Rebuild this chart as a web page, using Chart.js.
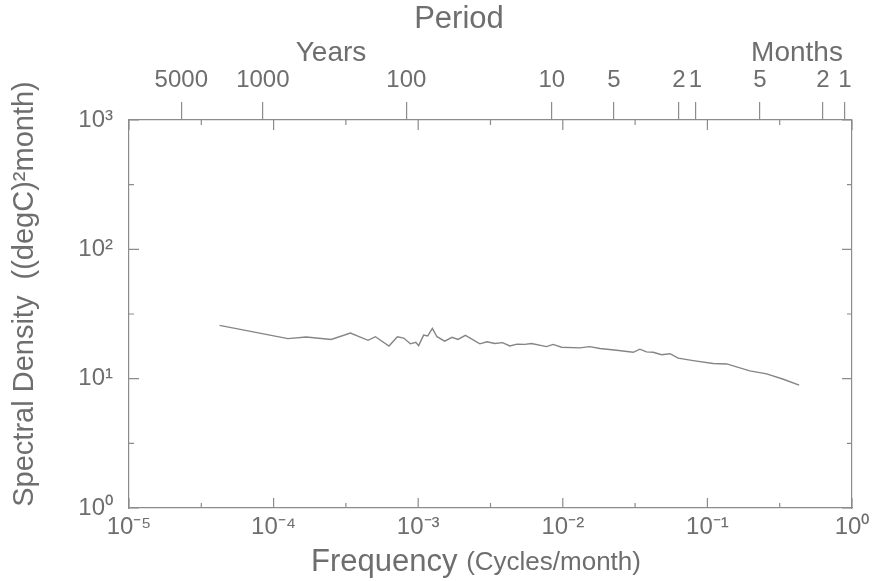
<!DOCTYPE html>
<html>
<head>
<meta charset="utf-8">
<script src="https://cdn.jsdelivr.net/npm/chart.js@4.4.1/dist/chart.umd.min.js"></script>
<style>
  html, body { margin: 0; padding: 0; background: #fff; }
  #wrap { width: 881px; height: 581px; }
</style>
</head>
<body>
<div id="wrap"><canvas id="spectrum"></canvas></div>
<script>
// frequency (cycles/month) and spectral density
const freq = [4.23e-5, 1.256e-4, 1.68e-4, 2.50e-4, 3.40e-4, 4.50e-4, 5.06e-4, 6.28e-4, 7.18e-4, 7.94e-4,
    8.83e-4, 9.62e-4, 1.007e-3, 1.09e-3, 1.164e-3, 1.253e-3, 1.349e-3, 1.524e-3, 1.714e-3, 1.884e-3,
    2.12e-3, 2.67e-3, 2.99e-3, 3.38e-3, 3.83e-3, 4.30e-3, 4.83e-3, 5.46e-3, 6.07e-3, 7.71e-3,
    8.57e-3, 9.80e-3, 0.01312, 0.01538, 0.01803, 0.02355, 0.0307, 0.0341, 0.0379, 0.0422,
    0.0482, 0.0551, 0.0628, 0.0798, 0.1096, 0.1358, 0.1967, 0.257, 0.335, 0.431];
const density = [25.8, 20.4, 21.0, 20.1, 22.5, 19.8, 21.1, 17.9, 21.1, 20.6,
    18.6, 19.1, 18.0, 21.7, 21.4, 24.5, 21.1, 19.5, 20.9, 20.1,
    21.6, 18.6, 19.3, 18.7, 19.0, 17.9, 18.5, 18.4, 18.7, 17.7,
    18.4, 17.5, 17.3, 17.7, 17.1, 16.6, 16.0, 16.9, 16.1, 16.0,
    15.3, 15.6, 14.4, 13.8, 13.1, 13.0, 11.5, 10.9, 9.9, 8.9];

// period axis along the top
const periodFreqs = [2.30e-5, 8.43e-5, 8.28e-4, 8.40e-3, 0.02254, 0.0636, 0.0828, 0.2307, 0.629, 0.895];
const periodLabels = ['5000', '1000', '100', '10', '5', '2', '1', '5', '2', '1'];

const xTickLabels = ['10\u207B\u2075', '10\u207B\u2074', '10\u207B\u00B3', '10\u207B\u00B2', '10\u207B\u00B9', '10\u2070'];
const yTickLabels = ['10\u2070', '10\u00B9', '10\u00B2', '10\u00B3'];

const ink = '#6e6e6e';
const fontFamily = '"Liberation Sans", Arial, sans-serif';

const decades = (min, max) => {
    const out = [];
    for (let k = Math.log10(min); k <= Math.log10(max); k++) out.push(Math.pow(10, k));
    return out;
};

// inward tick marks on all four sides plus the axis titles
const frameDecor = {
    id: 'frameDecor',
    afterDraw(chart) {
        const ctx = chart.ctx;
        const a = chart.chartArea;
        const xs = chart.scales.x, ys = chart.scales.y;
        ctx.save();
        ctx.strokeStyle = '#8c8c8c';
        ctx.lineWidth = 1.2;
        ctx.beginPath();
        decades(xs.min, xs.max).forEach(v => {
            [[v, 10], [v * Math.sqrt(10), 5]].forEach(([val, len]) => {
                if (val > xs.max) return;
                const px = xs.getPixelForValue(val);
                ctx.moveTo(px, a.bottom); ctx.lineTo(px, a.bottom - len);
                ctx.moveTo(px, a.top); ctx.lineTo(px, a.top + len);
            });
        });
        decades(ys.min, ys.max).forEach(v => {
            [[v, 10], [v * Math.sqrt(10), 5]].forEach(([val, len]) => {
                if (val > ys.max) return;
                const py = ys.getPixelForValue(val);
                ctx.moveTo(a.left, py); ctx.lineTo(a.left + len, py);
                ctx.moveTo(a.right, py); ctx.lineTo(a.right - len, py);
            });
        });
        ctx.stroke();

        ctx.fillStyle = ink;
        ctx.textBaseline = 'middle';
        ctx.textAlign = 'center';
        ctx.font = '31px ' + fontFamily;
        ctx.fillText('Period', 459, 19);
        ctx.font = '28px ' + fontFamily;
        ctx.fillText('Years', 331, 53);
        ctx.fillText('Months', 797, 53);

        // x title: "Frequency" large, "(Cycles/month)" smaller
        ctx.textAlign = 'left';
        ctx.font = '31px ' + fontFamily;
        const w1 = ctx.measureText('Frequency ').width;
        ctx.font = '26px ' + fontFamily;
        const w2 = ctx.measureText('(Cycles/month)').width;
        let x0 = 476 - (w1 + w2) / 2;
        ctx.font = '31px ' + fontFamily;
        ctx.fillText('Frequency ', x0, 562);
        ctx.font = '26px ' + fontFamily;
        ctx.fillText('(Cycles/month)', x0 + w1, 563);

        // y title
        ctx.translate(25, 294);
        ctx.rotate(-Math.PI / 2);
        ctx.textAlign = 'center';
        ctx.font = '29px ' + fontFamily;
        ctx.fillText('Spectral Density  ((degC)\u00B2month)', 0, 0);
        ctx.restore();
    }
};

const ctx = document.getElementById('spectrum').getContext('2d');

new Chart(ctx, {
    type: 'line',
    data: {
        datasets: [{
            data: freq.map((f, i) => ({ x: f, y: density[i] })),
            borderColor: '#858585',
            borderWidth: 1.4,
            pointRadius: 0,
            tension: 0,
            fill: false
        }]
    },
    options: {
        responsive: true,
        maintainAspectRatio: false,
        animation: false,
        layout: { padding: 0 },
        plugins: { legend: { display: false }, tooltip: { enabled: false } },
        scales: {
            x: {
                type: 'logarithmic',
                position: 'bottom',
                min: 1e-5,
                max: 1,
                afterBuildTicks: s => { s.ticks = decades(1e-5, 1).map(v => ({ value: v })); },
                afterFit: s => { s.height = 73; },
                grid: { display: false, drawTicks: false },
                border: { display: true, color: '#8c8c8c', width: 1.2 },
                ticks: {
                    autoSkip: false,
                    maxRotation: 0,
                    padding: 5,
                    color: ink,
                    font: { family: fontFamily, size: 24 },
                    callback: (v, i) => xTickLabels[i]
                }
            },
            x2: {
                type: 'logarithmic',
                position: 'top',
                min: 1e-5,
                max: 1,
                afterBuildTicks: s => { s.ticks = periodFreqs.map(v => ({ value: v })); },
                afterFit: s => { s.height = 120; },
                grid: { display: true, drawOnChartArea: false, drawTicks: true, tickLength: 18, color: '#8c8c8c', lineWidth: 1.2 },
                border: { display: true, color: '#8c8c8c', width: 1.2 },
                ticks: {
                    autoSkip: false,
                    maxRotation: 0,
                    padding: 7,
                    color: ink,
                    font: { family: fontFamily, size: 24 },
                    callback: (v, i) => periodLabels[i]
                }
            },
            y: {
                type: 'logarithmic',
                position: 'left',
                min: 1,
                max: 1000,
                afterBuildTicks: s => { s.ticks = decades(1, 1000).map(v => ({ value: v })); },
                afterFit: s => { s.width = 129; },
                grid: { display: false, drawTicks: false },
                border: { display: true, color: '#8c8c8c', width: 1.2 },
                ticks: {
                    autoSkip: false,
                    padding: 16,
                    color: ink,
                    font: { family: fontFamily, size: 24 },
                    callback: (v, i) => yTickLabels[i]
                }
            },
            y2: {
                type: 'logarithmic',
                position: 'right',
                min: 1,
                max: 1000,
                afterFit: s => { s.width = 29; },
                grid: { display: false, drawTicks: false },
                border: { display: true, color: '#8c8c8c', width: 1.2 },
                ticks: { display: false }
            }
        }
    },
    plugins: [frameDecor]
});
</script>
</body>
</html>
